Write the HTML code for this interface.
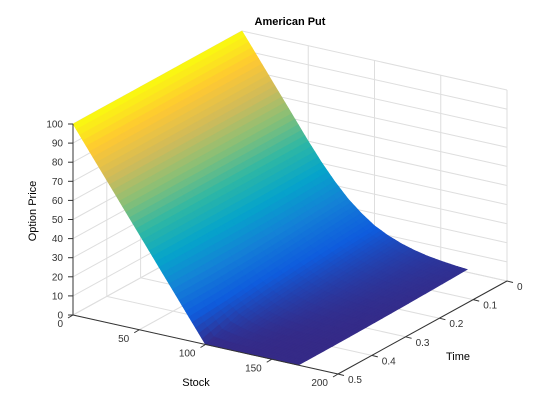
<!DOCTYPE html>
<html><head><meta charset="utf-8"><style>
body{margin:0;background:#fff}
svg{display:block;font-family:"Liberation Sans",sans-serif}
</style></head><body>
<svg id="chart" width="560" height="420" viewBox="0 0 560 420" xmlns="http://www.w3.org/2000/svg">
<rect width="560" height="420" fill="#fff"/>
<g id="grid"></g>
<g id="surf"></g>
<g id="axes"></g>
<text x="290" y="25" font-size="11" font-weight="bold" text-anchor="middle">American Put</text>
<text x="196" y="386" font-size="11" text-anchor="middle">Stock</text>
<text x="458" y="360" font-size="11" text-anchor="middle">Time</text>
<text transform="translate(36,211) rotate(-90)" font-size="11" text-anchor="middle">Option Price</text>
</svg>
<script>
const stockGrid=[0,10,20,30,40,50,60,70,80,90,100,110,120,130,140,150,160,170];
const timeGrid=[0,0.1,0.2,0.3,0.4,0.5];
const priceT0=[100,90,80,70,60,50,40.5,32,24.5,18.5,13.5,10,7.3,5.3,3.8,2.8,2,1.4];
const priceT1=[100,90,80,70,60,50,40.2,31,23.3,17,12.2,8.6,6,4.1,2.8,1.9,1.3,0.9];
const priceT2=[100,90,80,70,60,50,40,30.3,22,15.3,10.5,7,4.6,3,1.9,1.2,0.8,0.5];
const priceT3=[100,90,80,70,60,50,40,30,20.8,13.5,8.6,5.2,3.1,1.8,1,0.6,0.3,0.2];
const priceT4=[100,90,80,70,60,50,40,30,20,11.5,6.1,3,1.3,0.5,0.2,0.1,0,0];
const priceT5=[100,90,80,70,60,50,40,30,20,10,0,0,0,0,0,0,0,0];
const zTicks=[0,10,20,30,40,50,60,70,80,90,100];
const sTicks=[0,50,100,150,200];
const tTicks=[0,0.1,0.2,0.3,0.4,0.5];
const rows=[priceT0,priceT1,priceT2,priceT3,priceT4,priceT5];

const NS="http://www.w3.org/2000/svg";
function px(S,t,z){return 73+1.325*S+338*(0.5-t);}
function py(S,t,z){return 315+0.295*S-186*(0.5-t)-1.91*z;}
function mk(tag,attrs,parent){const e=document.createElementNS(NS,tag);for(const k in attrs)e.setAttribute(k,attrs[k]);parent.appendChild(e);return e;}
const stops=[[53,42,135],[15,92,221],[20,129,214],[6,164,202],[46,183,164],[135,191,119],[209,187,89],[254,200,50],[249,251,14]];
function parula(z){let v=Math.max(0,Math.min(1,z/100))*(stops.length-1);let i=Math.min(stops.length-2,Math.floor(v));let f=v-i;const a=stops[i],b=stops[i+1];return `rgb(${a.map((c,k)=>Math.round(c+(b[k]-c)*f)).join(',')})`;}

const grid=document.getElementById('grid');
const gc="#dedede";
function line(x1,y1,x2,y2,parent,col,name){const l=mk('line',{x1,y1,x2,y2,stroke:col,'stroke-width':1},parent);return l;}
// walls
zTicks.forEach(z=>{
  line(px(0,0.5,z),py(0,0.5,z),px(0,0,z),py(0,0,z),grid,gc,'z-gridline-left');
  line(px(0,0,z),py(0,0,z),px(200,0,z),py(200,0,z),grid,gc,'z-gridline-back');
});
tTicks.forEach(t=>{
  line(px(0,t,0),py(0,t,0),px(0,t,100),py(0,t,100),grid,gc,'t-gridline-wall');
  line(px(0,t,0),py(0,t,0),px(200,t,0),py(200,t,0),grid,gc,'t-gridline-floor');
});
sTicks.forEach(s=>{
  line(px(s,0,0),py(s,0,0),px(s,0,100),py(s,0,100),grid,gc,'s-gridline-wall');
  line(px(s,0.5,0),py(s,0.5,0),px(s,0,0),py(s,0,0),grid,gc,'s-gridline-floor');
});

// surface
const surf=document.getElementById('surf');
const sub=4;
for(let j=0;j<timeGrid.length-1;j++){
  for(let i=0;i<stockGrid.length-1;i++){
    const S0=stockGrid[i],S1=stockGrid[i+1],t0=timeGrid[j],t1=timeGrid[j+1];
    const z00=rows[j][i],z10=rows[j][i+1],z01=rows[j+1][i],z11=rows[j+1][i+1];
    const Z=(u,v)=>z00*(1-u)*(1-v)+z10*u*(1-v)+z01*(1-u)*v+z11*u*v;
    for(let b=0;b<sub;b++)for(let a=0;a<sub;a++){
      const u0=a/sub,u1=(a+1)/sub,v0=b/sub,v1=(b+1)/sub;
      const pts=[[u0,v0],[u1,v0],[u1,v1],[u0,v1]].map(([u,v])=>{const S=S0+(S1-S0)*u,t=t0+(t1-t0)*v,z=Z(u,v);return px(S,t,z).toFixed(2)+','+py(S,t,z).toFixed(2);});
      const zc=Z((u0+u1)/2,(v0+v1)/2);
      const col=parula(zc);
      const p=mk('polygon',{points:pts.join(' '),fill:col,stroke:col,'stroke-width':0.6},surf);
      
      
    }
  }
}

// axes
const ax=document.getElementById('axes');
const ac="#333";
line(px(0,0.5,0),py(0,0.5,0),px(0,0.5,100),py(0,0.5,100),ax,ac,'z-axis-line');
line(px(0,0.5,0),py(0,0.5,0),px(200,0.5,0),py(200,0.5,0),ax,ac,'x-axis-line');
line(px(200,0.5,0),py(200,0.5,0),px(200,0,0),py(200,0,0),ax,ac,'y-axis-line');
zTicks.forEach(z=>{
  const x=px(0,0.5,z),y=py(0,0.5,z);
  line(x,y,x-5,y,ax,ac,'z-tick');
  const t=mk('text',{x:x-10,y:y+3.5,'font-size':10,'text-anchor':'end',fill:'#333'},ax);
  t.textContent=z;
  
  
});
sTicks.forEach(s=>{
  const x=px(s,0.5,0),y=py(s,0.5,0);
  line(x,y,x-5,y+3,ax,ac,'x-tick');
  const t=mk('text',{x:x-10,y:y+12,'font-size':10,'text-anchor':'end',fill:'#333'},ax);
  t.textContent=s;
  
  
});
tTicks.forEach(tv=>{
  const x=px(200,tv,0),y=py(200,tv,0);
  line(x,y,x+6,y+1.5,ax,ac,'y-tick');
  const t=mk('text',{x:x+10,y:y+9,'font-size':10,'text-anchor':'start',fill:'#333'},ax);
  t.textContent=tv;
  
  
});
</script>
</body></html>
